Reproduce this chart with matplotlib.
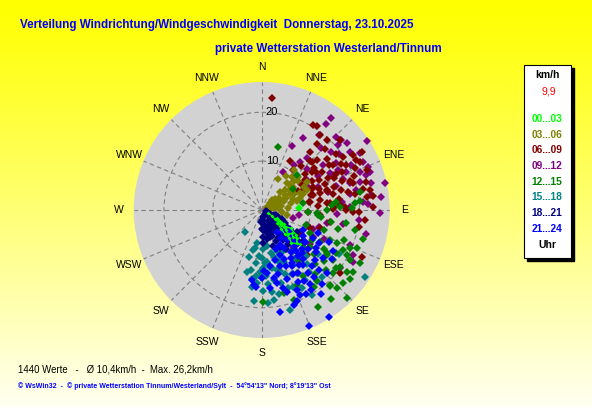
import numpy as np
import matplotlib
matplotlib.use("Agg")
import matplotlib.pyplot as plt
import matplotlib.patches as mpatches

# wind direction (deg, 0 = N, clockwise) and speed (km/h), one list per time band
pts_00_03 = [(115, 1.5), (120, 2.5), (124, 3.2), (126, 4.0), (128, 5.0), (127, 5.8), (130, 6.5), (132, 7.2),
             (128, 7.8), (131, 8.5), (129, 9.2), (133, 9.8), (126, 8.8), (122, 7.0), (125, 6.0), (121, 4.6),
             (118, 3.6), (123, 5.4), (130, 4.2), (134, 5.5), (136, 6.8), (135, 8.0), (138, 9.0), (132, 10.5)]
pts_00_03_single = [(87, 7.7)]

pts_03_06 = [(28, 7.2), (39, 10.5), (43, 7.5), (54, 8.0), (60, 6.7), (61, 4.3), (74, 2.5), (51, 2.2), (56, 1.2),
             (66, 8.5), (61, 9.8), (48, 8.8), (52, 9.5), (58, 7.2), (63, 5.6), (68, 5.0), (70, 6.8), (72, 8.2),
             (64, 7.4), (57, 5.8), (50, 6.3), (46, 5.2), (55, 4.4), (66, 3.6), (78, 4.0), (82, 2.8), (88, 3.5),
             (95, 4.2), (101, 5.2), (114, 4.1), (92, 1.8), (85, 5.5), (76, 6.2), (66, 10.2), (58, 11.0), (48, 10.0),
             (42, 9.2), (35, 8.5), (62, 2.0), (70, 1.5), (80, 1.0), (45, 3.0), (52, 3.5), (59, 3.0), (64, 4.8),
             (73, 3.2), (76, 7.5), (69, 9.0), (54, 6.8), (49, 7.8)]

pts_06_09 = [(5, 23.1), (31, 20.4), (33, 20.6), (38, 19.4), (43, 19.7), (40, 17.7), (40, 15.4), (46, 14.2),
             (48, 15.2), (45, 14.1), (53, 12.8), (38, 10.4), (30, 11.5), (42, 12.0), (55, 13.5), (58, 14.5),
             (60, 12.0), (62, 13.2), (64, 15.0), (66, 16.2), (68, 14.0), (70, 12.5), (72, 15.5), (56, 16.5),
             (58, 17.2), (60, 18.7), (52, 17.0), (50, 11.5), (55, 10.8), (63, 10.0), (67, 11.2), (74, 13.8),
             (76, 16.8), (78, 18.0), (65, 18.2), (62, 19.5), (59, 21.7), (60, 23.8), (66, 21.0), (70, 20.2),
             (72, 19.0), (78, 21.1), (83, 21.8), (80, 19.4), (82, 16.0), (84, 13.5), (86, 11.5), (73, 10.5),
             (68, 9.0), (62, 8.5), (57, 9.6), (88, 14.8), (90, 17.3), (91, 20.0), (100, 20.2), (115, 22.6),
             (129, 20.5), (100, 14.1), (107, 12.5), (95, 12.0), (92, 9.5), (110, 10.5), (118, 11.8), (122, 9.0),
             (75, 22.0), (69, 23.0), (53, 19.0), (48, 21.5), (46, 18.0), (51, 13.8), (64, 17.0), (70, 17.5),
             (74, 11.0), (80, 9.8), (57, 19.9), (62, 21.9), (64, 22.4), (79.5, 22.5), (83, 23.0), (88.3, 22.8),
             (73.7, 19.5), (80, 10.0), (80, 12.1), (84, 14.0), (86, 16.0), (89, 14.6), (88, 17.0), (91, 18.7),
             (95.5, 21.2), (64, 9.4), (66, 11.6), (74, 12.4), (73, 13.9), (77, 15.0), (135, 13.0), (143, 10.6)]

pts_09_12 = [(36.7, 23.6), (36.8, 21.9), (37.5, 19.3), (45.6, 21.4), (48.8, 21.7), (51.9, 22.1), (49.7, 20.5),
             (56.6, 25.8), (56.6, 21.6), (60, 23.2), (64.6, 23.0), (67.9, 23.5), (70.6, 23.4), (71.6, 22.6),
             (68.8, 21.5), (77.8, 25.8), (91.6, 24.2), (87, 21.8), (85.3, 20.8), (96, 20.0), (78, 19.8), (80, 18.3),
             (73, 18.8), (69, 17.9), (62.4, 17.7), (64, 16.3), (61.6, 15.8), (53.9, 15.6), (41, 14.0), (38.6, 12.5),
             (36, 11.4), (29, 9.0), (105, 6.7), (97.5, 7.8), (108, 9.7), (110.5, 11.2), (106, 12.3), (101.6, 13.6),
             (111.7, 19.4), (116, 20.9), (126.6, 19.9), (119.4, 21.5), (25, 14.5), (30, 17.0), (44, 17.5),
             (50, 18.5), (54, 19.5), (58, 18.0), (74, 21.0), (76, 23.0), (82, 22.5), (84, 24.5), (63, 20.5),
             (66, 19.0), (72, 16.0), (59, 13.5), (48, 12.5), (55, 11.0), (84, 16.5), (88, 18.0), (93, 15.5),
             (100, 17.0), (103, 22.0), (115, 14.0), (125, 12.0), (128, 8.5), (140, 10.0), (145, 12.5), (120, 9.0),
             (62, 10.5), (68, 12.5), (75, 14.0)]

pts_12_15 = [(14.7, 13.4), (45, 10.1), (95, 11.6), (97, 12.2), (86, 14.4), (83.7, 15.4), (89, 18.4), (86, 19.1),
             (85, 20.2), (79.5, 20.4), (124.7, 16.2), (128, 19.4), (118, 19.7), (113.5, 19.7), (118.5, 13.6),
             (136, 25.1), (136, 22.2), (137.7, 20.7), (179, 18.8), (124, 22.6), (118.5, 22.9), (93.4, 11.3),
             (90, 13.3), (87.6, 16.0), (113.7, 15.3), (114, 16.8), (123.7, 16.0), (125, 17.9), (116, 18.6),
             (119.5, 20.7), (126, 19.8), (131.5, 19.5), (132, 22.4), (128, 23.0), (151, 14.7), (146, 19.0),
             (140, 17.0), (135, 15.5), (130, 14.0), (127, 12.5), (121, 12.0), (115, 11.0), (108, 13.5), (104, 16.0),
             (110, 18.0), (102, 19.5), (100, 14.5), (133, 18.0), (138, 21.0), (142, 23.0), (142, 18.5), (148, 16.0),
             (155, 17.0), (160, 19.5), (144, 13.0), (122, 15.0), (120, 17.5), (129, 16.5), (132, 11.5), (112, 21.0),
             (106, 21.5), (126, 21.5), (99, 17.5), (92, 9.5), (109, 9.5), (134, 9.0), (80, 8.5), (56, 7.8),
             (150, 23.0), (165, 17.5)]

pts_15_18 = [(217.6, 5.6), (192, 8.4), (188.5, 6.9), (180, 9.9), (176.5, 10.9), (171.7, 11.7), (166, 12.6),
             (187.4, 15.8), (184, 15.0), (185, 18.8), (164, 21.3), (149.5, 20.2), (123, 25.2), (120, 18.2),
             (174, 10.6), (178, 8.0), (183, 9.5), (186, 11.0), (190, 12.5), (182, 12.8), (176, 13.5), (170, 14.5),
             (165, 15.5), (160, 14.0), (162, 11.0), (168, 9.0), (172, 7.5), (195, 10.0), (190, 8.0), (179, 16.5),
             (173, 17.0), (168, 17.5), (161, 16.8), (155, 14.5), (150, 13.0), (146, 12.0), (140, 14.5), (136, 13.0),
             (143, 16.0), (153, 18.0), (158, 17.0), (176, 19.0), (181, 13.8), (170, 12.0), (163, 13.0), (157, 11.5),
             (185, 13.5), (188, 14.2), (175, 15.2), (166, 10.0), (160, 9.0), (154, 9.5), (193, 13.0), (179, 11.8),
             (172, 18.5), (148, 16.8), (138, 18.5), (132, 12.0), (128, 14.5), (144, 10.5)]

pts_18_21 = [(120, 1.5), (122, 2.5), (125, 3.5), (127, 4.5), (128, 5.5), (130, 6.5), (132, 7.5), (133, 8.5),
             (131, 9.5), (129, 10.5), (126, 8.0), (124, 7.0), (123, 6.0), (121, 5.0), (119, 4.0), (118, 3.0),
             (116, 2.0), (135, 3.0), (138, 4.0), (140, 5.0), (142, 6.0), (141, 7.2), (137, 8.0), (136, 9.2),
             (134, 10.0), (139, 6.5), (144, 5.5), (146, 4.5), (148, 3.5), (150, 2.5), (152, 4.0), (155, 5.0),
             (158, 5.8), (160, 4.5), (163, 5.7), (165, 3.5), (168, 4.8), (170, 6.0), (172, 3.0), (175, 4.2),
             (177, 6.8), (178, 5.5), (180, 3.8), (182, 2.5), (176, 2.0), (170, 1.5), (160, 1.2), (140, 1.0),
             (110, 1.2), (100, 0.8), (130, 2.0), (128, 3.0), (112, 2.8), (115, 3.6), (133, 5.0), (145, 7.5),
             (150, 6.5), (156, 7.0), (162, 7.8), (126, 11.0), (128, 9.0), (143, 8.8), (148, 9.5), (154, 8.5),
             (122, 8.5), (118, 5.5), (113, 4.5), (108, 3.0)]

pts_21_24 = [(135, 9.0), (138, 10.0), (140, 11.0), (142, 12.0), (145, 10.5), (148, 11.5), (150, 12.5), (146, 13.5),
             (143, 14.0), (140, 13.0), (137, 12.0), (134, 11.5), (132, 10.0), (130, 12.5), (128, 14.0), (133, 15.0),
             (138, 15.5), (144, 16.0), (150, 15.0), (152, 13.0), (155, 11.0), (157, 12.5), (154, 14.5), (149, 17.0),
             (147, 18.0), (148.6, 19.2), (156, 19.1), (159, 20.0), (163, 17.5), (164.6, 16.6), (170, 14.2),
             (168, 15.3), (186, 15.4), (184, 15.7), (170, 21.1), (158, 25.6), (148, 25.9), (115, 15.3), (120, 16.9),
             (125, 13.5), (127, 11.0), (131, 8.0), (140, 8.0), (150, 9.0), (158, 10.0), (162, 12.0), (166, 13.5),
             (160, 15.0), (153, 16.5), (142, 17.5), (136, 17.0), (125, 17.5), (118, 12.0), (122, 10.0), (145, 7.0),
             (152, 8.0), (160, 8.5), (165, 10.5), (172, 11.5), (175, 13.0), (178, 12.5), (180, 14.0), (174, 16.0),
             (188, 14.5), (156, 18.0), (152, 19.5), (161, 20.5), (145, 21.0), (141, 19.5), (134, 18.5), (128, 16.0),
             (120, 13.5), (112, 12.5), (116, 9.5), (126, 7.0), (137, 6.0), (146, 5.5)]

band_labels = ["00...03", "03...06", "06...09", "09...12", "12...15", "15...18", "18...21", "21...24"]
band_colors = ["#00FF00", "#808000", "#800000", "#800080", "#008000", "#008080", "#000080", "#0000FF"]
compass = ["N", "NNE", "NE", "ENE", "E", "ESE", "SE", "SSE", "S", "SSW", "SW", "WSW", "W", "WNW", "NW", "NNW"]
ring_values = [10, 20]
r_max = 26.2
mean_speed = "9,9"

title_1 = "Verteilung Windrichtung/Windgeschwindigkeit  Donnerstag, 23.10.2025"
title_2 = "private Wetterstation Westerland/Tinnum"
stats_text = "1440 Werte   -   \u00d8 10,4km/h  -  Max. 26,2km/h"
footer_text = "\u00a9 WsWin32  -  \u00a9 private Wetterstation Tinnum/Westerland/Sylt  -  54\u00b054'13\" Nord; 8\u00b019'13\" Ost"

W, H = 592, 407
plt.rcParams["font.family"] = ["Liberation Sans", "DejaVu Sans"]

fig = plt.figure(figsize=(W / 100, H / 100), dpi=100)


def fx(x):
    return x / W


def fy(y):
    return 1 - y / H


# yellow background, fading towards the bottom
bg = fig.add_axes([0, 0, 1, 1], zorder=-10)
grad = np.linspace(0, 1, 256)[:, None]
img = np.zeros((256, 2, 3))
img[..., 0] = 1
img[..., 1] = 1
img[..., 2] = 0.95 * grad ** 1.1
bg.imshow(img, aspect="auto", extent=[0, 1, 0, 1])
bg.axis("off")

cx, cy, rad = 261.7, 210, 128
ax = fig.add_axes([fx(cx - rad), fy(cy + rad), 2 * rad / W, 2 * rad / H], projection="polar")
ax.set_theta_zero_location("N")
ax.set_theta_direction(-1)
ax.set_ylim(0, r_max)
ax.set_facecolor("#D2D2D2")
ax.spines["polar"].set_visible(False)
ax.set_xticks(np.radians(np.arange(0, 360, 22.5)))
ax.set_xticklabels([])
ax.set_yticks(ring_values)
ax.set_yticklabels([])
ax.grid(color="#808080", linestyle=(0, (4, 3)), linewidth=0.8)

for i, name in enumerate(compass):
    ax.text(np.radians(i * 22.5), r_max * 1.117, name, ha="center", va="center",
            fontsize=7.5, clip_on=False)
for rv in ring_values:
    ax.annotate(str(rv), xy=(0, rv), xytext=(7.5, 0), textcoords="offset points",
                ha="center", va="center", fontsize=8)

groups = [pts_00_03, pts_03_06, pts_06_09, pts_09_12, pts_12_15, pts_15_18, pts_18_21, pts_21_24]
order = [3, 2, 1, 5, 4, 6, 7]
for k in order:
    d, s = np.array(groups[k]).T
    ax.plot(np.radians(d), s, "D", ms=3.6, mew=0, color=band_colors[k], clip_on=False)

d, s = np.array(pts_00_03).T
ax.plot(np.radians(d), s, "-", lw=0.9, color=band_colors[0])
ax.plot(np.radians(d), s, "D", ms=2.0, mew=0, color=band_colors[0])
d, s = np.array(pts_00_03_single).T
ax.plot(np.radians(d), s, "D", ms=3.6, mew=0, color=band_colors[0])

# titles
fig.text(fx(20), fy(25), title_1, color="#0000FF", fontsize=8.4, fontweight="bold", va="center")
fig.text(fx(215), fy(49), title_2, color="#0000FF", fontsize=8.4, fontweight="bold", va="center")

# legend box with shadow
shadow = mpatches.Rectangle((fx(527), fy(261)), fx(47), (193) / H, transform=fig.transFigure,
                            color="black", zorder=1)
box = mpatches.Rectangle((fx(524), fy(258)), fx(47), (193) / H, transform=fig.transFigure,
                         facecolor="white", edgecolor="black", linewidth=0.8, zorder=2)
fig.patches.extend([shadow, box])
fig.text(fx(547), fy(75), "km/h", fontsize=7.5, fontweight="bold", ha="center", va="center", zorder=3)
fig.text(fx(549), fy(92), mean_speed, fontsize=7.5, color="red", ha="center", va="center", zorder=3)
for i, lab in enumerate(band_labels):
    fig.text(fx(547), fy(119 + i * 15.7), lab, fontsize=7.3, fontweight="bold", color=band_colors[i],
             ha="center", va="center", zorder=3)
fig.text(fx(547), fy(245), "Uhr", fontsize=7.5, fontweight="bold", ha="center", va="center", zorder=3)

fig.text(fx(18), fy(369), stats_text, fontsize=6.9, va="center")
fig.text(fx(18), fy(386), footer_text, fontsize=5.0, fontweight="bold", color="#0000FF", va="center")

fig.savefig("out.png", dpi=100)
